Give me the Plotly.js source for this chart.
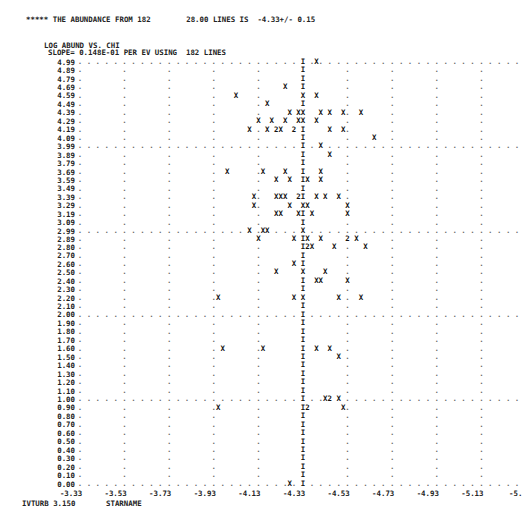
<!DOCTYPE html>
<html>
<head>
<meta charset="utf-8">
<script src="https://cdn.plot.ly/plotly-3.0.1.min.js"></script>
<style>html,body{margin:0;padding:0;background:#fff;overflow:hidden;}#chart{width:522px;height:512px;}</style>
</head>
<body>
<div id="chart"></div>
<script>
// ---- data ----
// log abundance of each plotted line (x) and its excitation potential row (y)
const abund = [
  -4.39,
  -4.25,
  -4.03, -4.33, -4.39,
  -4.17,
  -4.27, -4.31, -4.33, -4.41, -4.45, -4.51, -4.59,
  -4.13, -4.19, -4.25, -4.31, -4.33, -4.39,
  -4.09, -4.17, -4.21, -4.21, -4.23, -4.29, -4.29, -4.45, -4.51,
  -4.65,
  -4.41,
  -4.45,
  -3.99, -4.15, -4.25, -4.41,
  -4.21, -4.27, -4.35, -4.41,
  -4.11, -4.21, -4.23, -4.25, -4.31, -4.31, -4.39, -4.43, -4.49,
  -4.11, -4.27, -4.33, -4.35, -4.53,
  -4.21, -4.23, -4.31, -4.37, -4.53,
  -4.09, -4.15, -4.17, -4.33,
  -4.13, -4.29, -4.35, -4.41, -4.53, -4.53, -4.57,
  -4.35, -4.35, -4.37, -4.47, -4.61,
  -4.29,
  -4.21, -4.33, -4.43,
  -4.39, -4.41, -4.53,
  -3.95, -4.29, -4.33, -4.49, -4.59,
  -3.97, -4.15, -4.39, -4.45,
  -4.49,
  -4.43, -4.45, -4.45, -4.49,
  -3.95, -4.35, -4.35, -4.51,
  -4.27
];
const chi = [
  4.99,
  4.69,
  4.59, 4.59, 4.59,
  4.49,
  4.39, 4.39, 4.39, 4.39, 4.39, 4.39, 4.39,
  4.29, 4.29, 4.29, 4.29, 4.29, 4.29,
  4.19, 4.19, 4.19, 4.19, 4.19, 4.19, 4.19, 4.19, 4.19,
  4.09,
  3.99,
  3.89,
  3.69, 3.69, 3.69, 3.69,
  3.59, 3.59, 3.59, 3.59,
  3.39, 3.39, 3.39, 3.39, 3.39, 3.39, 3.39, 3.39, 3.39,
  3.29, 3.29, 3.29, 3.29, 3.29,
  3.19, 3.19, 3.19, 3.19, 3.19,
  2.99, 2.99, 2.99, 2.99,
  2.89, 2.89, 2.89, 2.89, 2.89, 2.89, 2.89,
  2.80, 2.80, 2.80, 2.80, 2.80,
  2.60,
  2.50, 2.50, 2.50,
  2.40, 2.40, 2.40,
  2.20, 2.20, 2.20, 2.20, 2.20,
  1.60, 1.60, 1.60, 1.60,
  1.50,
  1.00, 1.00, 1.00, 1.00,
  0.90, 0.90, 0.90, 0.90,
  0.00
];
const meanAbund = -4.33;
const yTickLabels = ['4.99','4.89','4.79','4.69','4.59','4.49','4.39','4.29','4.19','4.09',
  '3.99','3.89','3.79','3.69','3.59','3.49','3.39','3.29','3.19','3.09',
  '2.99','2.89','2.80','2.70','2.60','2.50','2.40','2.30','2.20','2.10',
  '2.00','1.90','1.80','1.70','1.60','1.50','1.40','1.30','1.20','1.10',
  '1.00','0.90','0.80','0.70','0.60','0.50','0.40','0.30','0.20','0.10','0.00'];
const xTickLabels = ['-3.33','-3.53','-3.73','-3.93','-4.13','-4.33','-4.53','-4.73','-4.93','-5.13','-5.33'];

// ---- layout geometry ----
const L = 78, T = 58, W = 444, H = 430;
const XR = [-3.32103, -5.3121];
const YR = [-0.0473, 5.0373];
const FONT = 'DejaVu Sans Mono, Liberation Mono, monospace';
const FS = 7.4;
const colStep = 0.02;           // one printer column
const x0 = parseFloat(xTickLabels[0]);
const nCols = 100;

const yTickVals = yTickLabels.map(Number);
const xTickVals = xTickLabels.map(Number);

function colOf(x){ return Math.round((x0 - x) / colStep); }
function rowOf(y){
  let best = 0, bd = 1e9;
  yTickVals.forEach((v,i)=>{ const d = Math.abs(v-y); if(d<bd){bd=d;best=i;} });
  return best;
}

// group points falling into the same printer cell
const cells = {};
abund.forEach((a,i)=>{
  const c = colOf(a), r = rowOf(chi[i]);
  const k = c + '_' + r;
  if(!cells[k]) cells[k] = {x: x0 - c*colStep, y: yTickVals[r], n: 0};
  cells[k].n++;
});
const occ = new Set(Object.keys(cells));
const px = [], py = [], pt = [];
Object.values(cells).forEach(o=>{ px.push(o.x); py.push(o.y); pt.push(o.n === 1 ? 'X' : String(Math.min(o.n,9))); });

// mean line ("I" column)
const meanCol = colOf(meanAbund);
const ix = [], iy = [];
yTickVals.forEach((v,r)=>{ if(!occ.has(meanCol+'_'+r)){ ix.push(meanAbund); iy.push(v); occ.add(meanCol+'_'+r);} });

// printer grid dots
const gx = [], gy = [];
yTickVals.forEach((v,r)=>{
  for(let c=0;c<nCols;c++){
    const isGridRow = (r % 10 === 0) && (c % 2 === 0);
    const isGridCol = (c % 10 === 0);
    if((isGridRow || isGridCol) && !occ.has(c+'_'+r)){ gx.push(x0 - c*colStep); gy.push(v); }
  }
});

const traces = [
  {type:'scatter', mode:'text', x:gx, y:gy, text:gx.map(()=>'.'), textposition:'middle center',
   textfont:{family:FONT, size:FS, color:'#6a6a6a', weight:'bold'}, cliponaxis:false, hoverinfo:'skip'},
  {type:'scatter', mode:'text', x:ix, y:iy, text:ix.map(()=>'I'), textposition:'middle center',
   textfont:{family:FONT, size:FS, color:'#222', weight:'bold'}, cliponaxis:false, hoverinfo:'skip'},
  {type:'scatter', mode:'text', x:px, y:py, text:pt, textposition:'middle center',
   textfont:{family:FONT, size:FS, color:'#111', weight:'bold'}, cliponaxis:false, hoverinfo:'skip'}
];

function ax(p){ return (p - L) / W; }
function ay(p){ return (T + H - p) / H; }
function xToPaper(v){ return (XR[0] - v) / (XR[0] - XR[1]); }
const nb = n => '\u00A0'.repeat(n);
function note(text, xp, yp){
  return {text:text, xref:'paper', yref:'paper', x:ax(xp), y:ay(yp), xanchor:'left', yanchor:'middle',
    showarrow:false, borderpad:0, font:{family:FONT, size:FS, color:'#222', weight:'bold'}};
}

// last x label lies just beyond the page edge; draw it so it is cut like the printout
const lastTick = xTickVals[xTickVals.length-1];
const lastTickNote = {text:xTickLabels[xTickLabels.length-1], xref:'paper', yref:'paper',
  x:xToPaper(lastTick) + 6.5/W, y:ay(493), xanchor:'right', yanchor:'middle', showarrow:false, borderpad:0,
  font:{family:FONT, size:FS, color:'#222', weight:'bold'}};

const layout = {
  width:522, height:512,
  margin:{l:L, t:T, r:522-L-W, b:512-T-H, pad:0},
  paper_bgcolor:'#fff', plot_bgcolor:'#fff',
  showlegend:false, hovermode:false,
  xaxis:{range:XR, showgrid:false, zeroline:false, showline:false, ticks:'',
    tickvals:xTickVals, ticktext:xTickLabels, ticklabelshift:9, ticklabelstandoff:0,
    tickfont:{family:FONT, size:FS, color:'#222', weight:'bold'}, automargin:false, fixedrange:true},
  yaxis:{range:YR, showgrid:false, zeroline:false, showline:false, ticks:'',
    tickvals:yTickVals, ticktext:yTickLabels, ticklabelstandoff:2,
    tickfont:{family:FONT, size:FS, color:'#222', weight:'bold'}, automargin:false, fixedrange:true},
  annotations:[
    note('*****'+nb(1)+'THE ABUNDANCE FROM 182'+nb(8)+'28.00 LINES IS'+nb(2)+'-4.33+/- 0.15', 25, 19),
    note('LOG ABUND VS. CHI', 43, 45),
    note('SLOPE= 0.148E-01 PER EV USING'+nb(2)+'182 LINES', 47, 53),
    note('IVTURB 3.150', 21, 503),
    note('STARNAME', 105, 503),
    lastTickNote
  ]
};

Plotly.newPlot('chart', traces, layout, {displayModeBar:false, staticPlot:true});
</script>
</body>
</html>
